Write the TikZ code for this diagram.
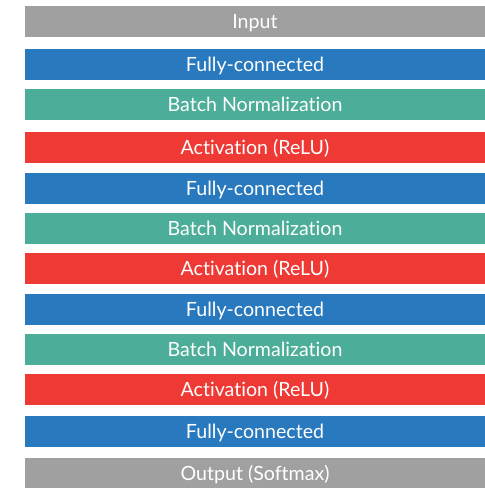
\documentclass[tikz,border=0pt]{standalone}
\usepackage{fontspec}
\setmainfont{Lato}[Ligatures={NoCommon,NoRare,NoDiscretionary}]
\definecolor{cgray}{HTML}{A0A0A0}
\definecolor{cblue}{HTML}{2979BE}
\definecolor{cgreen}{HTML}{4CAE99}
\definecolor{cred}{HTML}{EF3935}
\begin{document}
\begin{tikzpicture}[x=1pt,y=-1pt,
  layer/.style={minimum width=460pt,minimum height=31pt,inner sep=0pt,text height=14pt,text depth=0pt,text=white,font=\fontsize{19.6}{22}\selectfont},
  gl/.style={layer,fill=cgray},
  fc/.style={layer,fill=cblue},
  bn/.style={layer,fill=cgreen},
  act/.style={layer,fill=cred}]
\useasboundingbox (0,0) rectangle (485,488);
\node[gl]  (in) at (255,21.5) {Input};
\node[fc]  (f1) at (255,64.5) {Fully-connected};
\node[bn]  (b1) at (255,104.5) {Batch Normalization};
\node[act] (a1) at (255,147) {Activation (ReLU)};
\node[fc]  (f2) at (255,188.5) {Fully-connected};
\node[bn]  (b2) at (255,228) {Batch Normalization};
\node[act] (a2) at (255,268.5) {Activation (ReLU)};
\node[fc]  (f3) at (255,309.5) {Fully-connected};
\node[bn]  (b3) at (255,349) {Batch Normalization};
\node[act] (a3) at (255,389.5) {Activation (ReLU)};
\node[fc]  (f4) at (255,431) {Fully-connected};
\node[gl,minimum height=32pt]  (out) at (255,473.5) {Output (Softmax)};
\end{tikzpicture}
\end{document}
